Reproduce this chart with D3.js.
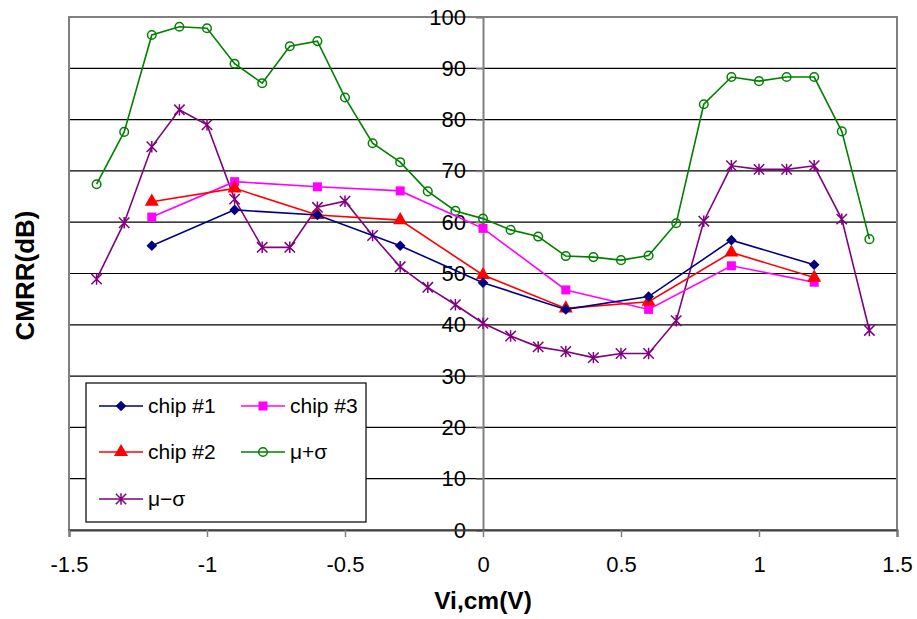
<!DOCTYPE html>
<html><head><meta charset="utf-8">
<script src="https://cdn.jsdelivr.net/npm/d3@7"></script>
<style>body{margin:0;background:#fff}svg{display:block;font-family:Arial,"Liberation Sans",sans-serif}</style>
</head><body><svg id="c" width="917" height="619"></svg>
<script>
const xFull = [-1.4,-1.3,-1.2,-1.1,-1.0,-0.9,-0.8,-0.7,-0.6,-0.5,-0.4,-0.3,-0.2,-0.1,0,0.1,0.2,0.3,0.4,0.5,0.6,0.7,0.8,0.9,1.0,1.1,1.2,1.3,1.4];
const xChip = [-1.2,-0.9,-0.6,-0.3,0,0.3,0.6,0.9,1.2];
const chip1 = [55.4,62.4,61.4,55.4,48.2,43.0,45.5,56.5,51.7];
const chip2 = [64.0,66.6,61.4,60.4,49.7,43.2,44.5,54.1,49.2];
const chip3 = [61.0,67.9,66.9,66.1,58.8,46.8,43.0,51.5,48.3];
const muPlus = [67.4,77.6,96.5,98.1,97.8,90.9,87.1,94.3,95.3,84.3,75.4,71.7,66.0,62.2,60.7,58.5,57.2,53.4,53.2,52.6,53.5,59.8,83.0,88.3,87.5,88.3,88.3,77.7,56.7];
const muMinus = [48.9,59.9,74.7,81.9,79.0,64.5,55.1,55.1,62.9,64.1,57.4,51.3,47.3,43.9,40.3,37.8,35.7,34.8,33.6,34.4,34.4,40.8,60.2,71.0,70.3,70.3,71.0,60.6,38.9];
const xTicks = [-1.5,-1,-0.5,0,0.5,1,1.5];
const yTicks = [0,10,20,30,40,50,60,70,80,90,100];

const series = [
  {name:"chip #1", x:xChip, y:chip1, color:"#000080", marker:"diamond"},
  {name:"chip #2", x:xChip, y:chip2, color:"#ff0000", marker:"triangle"},
  {name:"chip #3", x:xChip, y:chip3, color:"#ff00ff", marker:"square"},
  {name:"μ+σ", x:xFull, y:muPlus, color:"#008000", marker:"circle"},
  {name:"μ−σ", x:xFull, y:muMinus, color:"#800080", marker:"star"}
];

const svg = d3.select("#c");
const L=69, R=897, T=17, B=530;
const x = d3.scaleLinear().domain([-1.5,1.5]).range([L,R]);
const y = d3.scaleLinear().domain([0,100]).range([B,T]);
const FF = "Arial, 'Liberation Sans', sans-serif";

// gridlines
svg.append("g").selectAll("line").data(yTicks.filter(d=>d>0&&d<100)).join("line")
  .attr("x1",L).attr("x2",R).attr("y1",d=>y(d)).attr("y2",d=>y(d))
  .attr("stroke","#000").attr("stroke-width",1.2);
// plot border
svg.append("rect").attr("x",L).attr("y",T).attr("width",R-L).attr("height",B-T)
  .attr("fill","none").attr("stroke","#808080").attr("stroke-width",2);

// y axis at x=0
const yAxis = d3.axisLeft(y).tickValues(yTicks).tickSize(7).tickPadding(10).tickFormat(d3.format("d"));
const gy = svg.append("g").attr("transform",`translate(${x(0)},0)`).call(yAxis);
gy.select(".domain").attr("stroke","#808080").attr("stroke-width",2);
gy.selectAll(".tick line").attr("stroke","#808080").attr("stroke-width",1.5);
gy.selectAll(".tick text").attr("font-size",22).attr("fill","#000").attr("font-family",FF);

// x axis at y=0
const xAxis = d3.axisBottom(x).tickValues(xTicks).tickSize(7).tickPadding(19).tickFormat(d=>String(d));
const gx = svg.append("g").attr("transform",`translate(0,${y(0)})`).call(xAxis);
gx.select(".domain").attr("stroke","#404040").attr("stroke-width",2);
gx.selectAll(".tick line").attr("stroke","#808080").attr("stroke-width",1.5);
gx.selectAll(".tick text").attr("font-size",22).attr("fill","#000").attr("font-family",FF);

// titles
svg.append("text").attr("x",(L+R)/2).attr("y",609).attr("text-anchor","middle")
  .attr("font-size",24.5).attr("font-weight","bold").text("Vi,cm(V)");
svg.append("text").attr("transform",`translate(34,${(T+B)/2+2}) rotate(-90)`).attr("text-anchor","middle")
  .attr("font-size",26).attr("font-weight","bold").text("CMRR(dB)");

function drawMarker(g, type, color){
  if(type==="diamond") g.append("path").attr("d",d3.symbol(d3.symbolDiamond2,72)()).attr("fill",color);
  else if(type==="triangle") g.append("path").attr("d",d3.symbol(d3.symbolTriangle,85)()).attr("fill",color);
  else if(type==="square") g.append("rect").attr("x",-4.5).attr("y",-4.5).attr("width",9).attr("height",9).attr("fill",color);
  else if(type==="circle") g.append("circle").attr("r",4.3).attr("fill","none").attr("stroke",color).attr("stroke-width",1.5);
  else if(type==="star"){
    const s=5.2;
    g.append("path").attr("d",`M${-s},${-s}L${s},${s}M${-s},${s}L${s},${-s}M0,${-s*1.1}L0,${s*1.1}`)
      .attr("stroke",color).attr("stroke-width",1.5).attr("fill","none");
  }
}

const line = d3.line().x(d=>x(d[0])).y(d=>y(d[1]));
const order = [3,4,2,1,0];
order.forEach(i=>{
  const s = series[i];
  const pts = s.x.map((v,j)=>[v,s.y[j]]);
  svg.append("path").datum(pts).attr("d",line).attr("fill","none").attr("stroke",s.color).attr("stroke-width",1.6);
  pts.forEach(p=>{
    const g = svg.append("g").attr("transform",`translate(${x(p[0])},${y(p[1])})`);
    drawMarker(g,s.marker,s.color);
  });
});

// legend
const lg = svg.append("g");
lg.append("rect").attr("x",86).attr("y",383).attr("width",280).attr("height",139)
  .attr("fill","#fff").attr("stroke","#000").attr("stroke-width",1.2);
const pos = [[99,406],[99,452],[241,406],[241,452],[99,499]];
series.forEach((s,i)=>{
  const [lx,ly] = pos[i];
  lg.append("line").attr("x1",lx).attr("x2",lx+44).attr("y1",ly).attr("y2",ly).attr("stroke",s.color).attr("stroke-width",1.6);
  const g = lg.append("g").attr("transform",`translate(${lx+22},${ly})`);
  drawMarker(g,s.marker,s.color);
  lg.append("text").attr("x",lx+49).attr("y",ly+7).attr("font-size",21).attr("fill","#000").text(s.name);
});
</script></body></html>
